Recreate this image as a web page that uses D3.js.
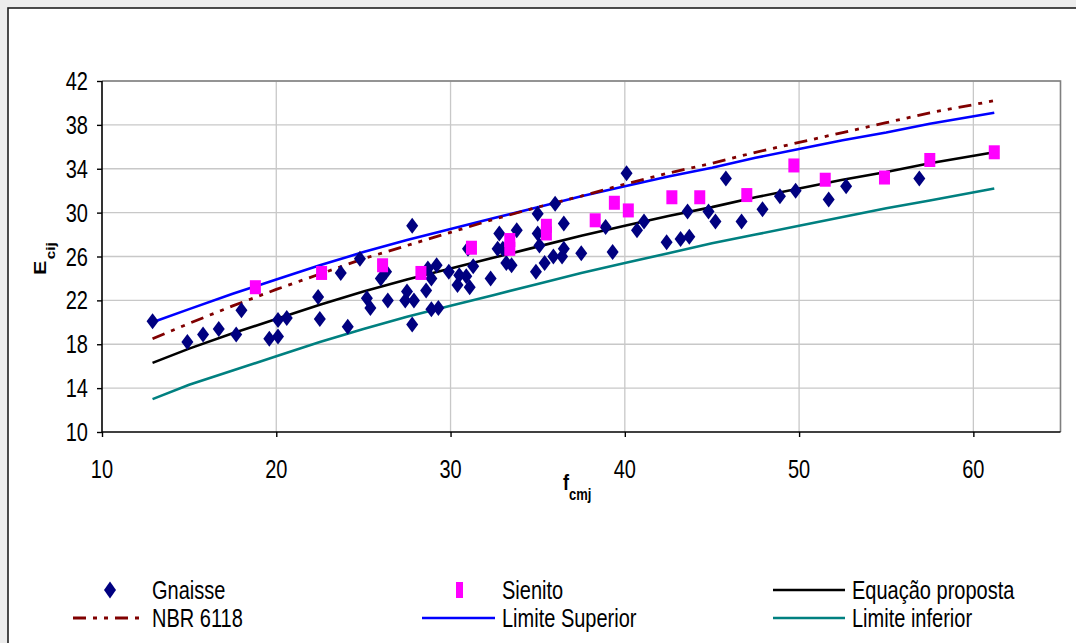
<!DOCTYPE html>
<html><head><meta charset="utf-8">
<script src="https://cdnjs.cloudflare.com/ajax/libs/d3/7.8.5/d3.min.js"></script>
<style>
html,body{margin:0;padding:0;background:#ececec;overflow:hidden;}
svg{display:block;}
text{font-family:"Liberation Sans",Arial,sans-serif;fill:#000;}
</style></head><body>
<svg id="c" width="1076" height="643"></svg>
<script>
// ---- data ----
const gnaisseX = [12.9,14.9,15.8,16.7,17.7,18.0,19.6,20.1,20.1,20.6,22.4,22.5,23.7,24.1,24.8,25.2,25.4,26.0,26.3,26.4,27.5,27.4,27.9,27.8,27.8,28.6,28.7,28.9,29.2,28.9,29.3,29.9,30.5,30.4,30.9,31.1,31.3,31.0,32.3,32.8,32.7,33.0,33.2,33.5,33.8,34.9,35.0,35.0,35.1,35.4,35.9,36.0,36.5,36.5,36.4,37.5,38.9,39.3,40.1,40.7,41.1,42.4,43.2,43.6,43.7,44.8,45.2,45.8,46.7,47.9,48.9,49.8,51.7,52.7,56.9];
const gnaisseY = [20.1,18.2,18.9,19.4,18.9,21.1,18.5,18.7,20.2,20.4,22.3,20.3,24.5,19.6,25.8,22.2,21.3,24.0,24.6,22.0,22.8,22.0,22.0,19.8,28.8,22.9,24.9,24.0,25.2,21.2,21.3,24.6,24.3,23.4,24.2,23.2,25.1,26.7,24.0,28.1,26.7,26.7,25.4,25.2,28.4,24.6,29.9,28.1,27.0,25.4,26.0,30.8,29.0,26.7,26.0,26.3,28.7,26.4,33.6,28.4,29.2,27.3,27.6,30.1,27.8,30.1,29.2,33.1,29.2,30.3,31.5,32.0,31.2,32.4,33.1];
const sienitoX = [18.8,22.6,26.1,28.3,31.2,33.4,33.4,35.5,35.5,38.3,39.4,40.2,42.7,44.3,47.0,49.7,51.5,54.9,57.5,61.2];
const sienitoY = [23.2,24.5,25.2,24.5,26.8,27.5,26.7,28.8,28.1,29.3,30.9,30.2,31.4,31.4,31.6,34.3,33.0,33.2,34.8,35.5];
const curveX = [12.9,15,17.5,20,22.5,25,27.5,30,32.5,35,37.5,40,42.5,45,47.5,50,52.5,55,57.5,61.2];
const equacaoProposta = [16.3,17.6,19.0,20.3,21.6,22.8,23.9,24.9,25.9,26.9,27.9,28.8,29.7,30.5,31.4,32.2,33.0,33.7,34.5,35.5];
const nbr6118 = [18.5,19.9,21.5,23.0,24.4,25.8,27.0,28.2,29.4,30.5,31.5,32.6,33.6,34.5,35.5,36.4,37.3,38.2,39.1,40.2];
const limiteSuperior = [20.0,21.2,22.6,23.9,25.2,26.4,27.5,28.5,29.5,30.5,31.5,32.4,33.3,34.1,35.0,35.8,36.6,37.3,38.1,39.1];
const limiteInferior = [13.0,14.3,15.6,16.9,18.2,19.4,20.5,21.5,22.5,23.5,24.5,25.4,26.3,27.2,28.0,28.8,29.6,30.4,31.1,32.2];
const xTicks = [10,20,30,40,50,60];
const yTicks = [10,14,18,22,26,30,34,38,42];
const legendLabels = ["Gnaisse","Sienito","Equação proposta","NBR 6118","Limite Superior","Limite inferior"];

// ---- drawing ----
const svg = d3.select("#c");
const SY = 1.27; // vertical stretch of the text
const L = 102, R = 1060.5, T = 81, B = 432;
const x = d3.scaleLinear().domain([10,65]).range([L,R]);
const y = d3.scaleLinear().domain([10,42]).range([B,T]);

svg.append("rect").attr("width",1076).attr("height",643).attr("fill","#ececec");
svg.append("rect").attr("x",8).attr("y",8).attr("width",1090).attr("height",660)
  .attr("fill","#fff").attr("stroke","#1e1e1e").attr("stroke-width",1.6);

function stext(g, px, py, str, size, anchor, weight){
  return g.append("text")
    .attr("transform",`translate(${px},${py}) scale(1,${SY})`)
    .attr("text-anchor",anchor||"start")
    .attr("font-size",size).attr("font-weight",weight||"normal")
    .text(str);
}

// gridlines
const grid = svg.append("g").attr("stroke","#c8c8c8").attr("stroke-width",1.3);
grid.selectAll("line.h").data(yTicks.slice(1)).join("line")
  .attr("x1",L).attr("x2",R).attr("y1",d=>y(d)).attr("y2",d=>y(d));
grid.selectAll("line.v").data(xTicks.slice(1)).join("line")
  .attr("x1",d=>x(d)).attr("x2",d=>x(d)).attr("y1",T).attr("y2",B);

// plot border top/right
svg.append("path").attr("d",`M${L},${T}H${R}V${B}`).attr("fill","none")
  .attr("stroke","#7f7f7f").attr("stroke-width",1.6);

// axes
const xAxis = d3.axisBottom(x).tickValues(xTicks).tickSize(5).tickFormat("");
const yAxis = d3.axisLeft(y).tickValues(yTicks).tickSize(5).tickFormat("");
const gx = svg.append("g").attr("transform",`translate(0,${B})`).call(xAxis);
const gy = svg.append("g").attr("transform",`translate(${L},0)`).call(yAxis);
[gx,gy].forEach(g=>{
  g.select(".domain").attr("stroke","#000").attr("stroke-width",1.6);
  g.selectAll(".tick line").attr("stroke","#000").attr("stroke-width",1.4);
});
gx.select(".domain").attr("d",`M${L},0H${R}`);
gy.select(".domain").attr("d",`M0,${T}V${B}`);
const labs = svg.append("g");
xTicks.forEach(t=>stext(labs, x(t), 478, String(t), 20, "middle"));
yTicks.forEach(t=>stext(labs, 88, y(t)+9, String(t), 20, "end"));

// axis titles
const xt = svg.append("text").attr("transform",`translate(563,490) scale(1,${SY})`)
  .attr("font-weight","bold").attr("font-size",18);
xt.append("tspan").text("f");
xt.append("tspan").attr("font-size",13).attr("dy",8).text("cmj");
const yt = svg.append("text").attr("transform",`translate(46,275) scale(1,${SY}) rotate(-90)`)
  .attr("font-weight","bold").attr("font-size",17);
yt.append("tspan").text("E");
yt.append("tspan").attr("font-size",12).attr("dy",9).attr("dx",1).text("cij");

// curves
const line = d3.line().x(d=>x(d[0])).y(d=>y(d[1]));
const series = [
  {v:limiteInferior, c:"#008080", w:2.6, dash:null},
  {v:limiteSuperior, c:"#0000ff", w:2.6, dash:null},
  {v:equacaoProposta, c:"#000000", w:2.6, dash:null},
  {v:nbr6118, c:"#800000", w:2.8, dash:"13,7,4,7,4,7"},
];
const gl = svg.append("g");
series.forEach(s=>{
  gl.append("path").datum(curveX.map((cx,i)=>[cx,s.v[i]]))
    .attr("d",line).attr("fill","none").attr("stroke",s.c)
    .attr("stroke-width",s.w).attr("stroke-dasharray",s.dash);
});

// markers
const diamond = "M0,-8L6,0L0,8L-6,0Z";
svg.append("g").selectAll("path").data(gnaisseX.map((gx,i)=>[gx,gnaisseY[i]])).join("path")
  .attr("d",diamond).attr("fill","#000080")
  .attr("transform",d=>`translate(${x(d[0])},${y(d[1])})`);
svg.append("g").selectAll("rect").data(sienitoX.map((sx,i)=>[sx,sienitoY[i]])).join("rect")
  .attr("x",d=>x(d[0])-5.5).attr("y",d=>y(d[1])-7).attr("width",11).attr("height",14)
  .attr("fill","#ff00ff");

// legend
const lg = svg.append("g");
const row1 = 599, row2 = 627;
lg.append("path").attr("d","M0,-8.5L6,0L0,8.5L-6,0Z").attr("fill","#000080").attr("transform","translate(110,590)");
stext(lg,152,row1,legendLabels[0],20,"start");
lg.append("rect").attr("x",456).attr("y",582).attr("width",7).attr("height",16).attr("fill","#ff00ff");
stext(lg,502,row1,legendLabels[1],20,"start");
lg.append("line").attr("x1",773).attr("x2",845).attr("y1",590).attr("y2",590).attr("stroke","#000").attr("stroke-width",2.5);
stext(lg,852,row1,legendLabels[2],20,"start");
lg.append("line").attr("x1",73).attr("x2",139).attr("y1",618).attr("y2",618).attr("stroke","#800000").attr("stroke-width",3).attr("stroke-dasharray","13,7,4,7,4,7");
stext(lg,152,row2,legendLabels[3],20,"start");
lg.append("line").attr("x1",422).attr("x2",495).attr("y1",618).attr("y2",618).attr("stroke","#0000ff").attr("stroke-width",2.5);
stext(lg,502,row2,legendLabels[4],20,"start");
lg.append("line").attr("x1",773).attr("x2",845).attr("y1",618).attr("y2",618).attr("stroke","#008080").attr("stroke-width",2.5);
stext(lg,852,row2,legendLabels[5],20,"start");
</script>
</body></html>
